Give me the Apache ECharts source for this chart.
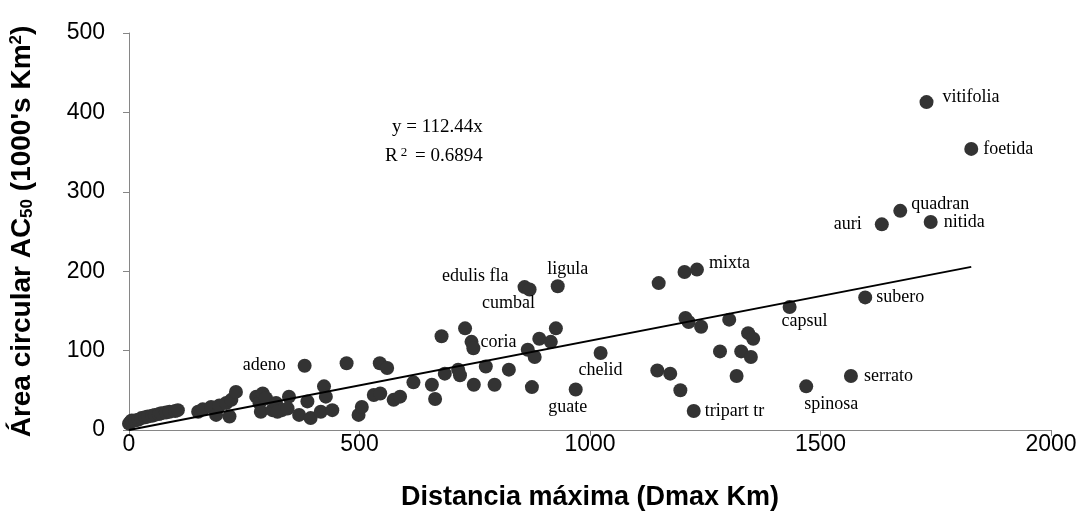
<!DOCTYPE html>
<html>
<head>
<meta charset="utf-8">
<title>Área circular vs distancia máxima</title>
<script src="https://cdn.jsdelivr.net/npm/echarts@6/dist/echarts.min.js"></script>
<style>
  html, body { margin: 0; padding: 0; background: #fff; }
  #chart { width: 1081px; height: 531px; }
</style>
</head>
<body>
<div id="chart"></div>
<script>
// distancia maxima (km)
var distX = [0, 3, 6, 13, 20, 27, 35, 41, 50, 56, 65, 70, 80, 88, 100, 106,
  150, 160, 178, 189, 196, 211, 218, 222, 232, 276, 283, 290, 297, 286, 311,
  319, 332, 347, 322, 344, 369, 381, 387, 394, 416, 423, 427, 441, 472, 498,
  505, 531, 545, 544, 560, 574, 588, 617, 657, 664, 678, 685, 714, 718, 729,
  743, 747, 748, 774, 793, 824, 858, 869, 865, 874, 880, 890, 915, 926, 930,
  969, 1023, 1146, 1149, 1174, 1196, 1205, 1207, 1214, 1225, 1232, 1241, 1282,
  1302, 1318, 1328, 1343, 1349, 1354, 1433, 1469, 1566, 1597, 1633, 1673, 1730,
  1739, 1827]
// area circular AC50 (1000's km2)
var areaY = [8, 10, 12, 12, 13, 15, 16, 17, 18, 19, 20, 21, 22, 23, 24, 25,
  23, 26, 29, 19, 31, 34, 17, 38, 48, 42, 34, 46, 40, 23, 25,
  34, 25, 42, 23, 27, 19, 81, 36, 15, 23, 55, 42, 25, 84, 19,
  29, 44, 46, 84, 78, 38, 42, 60, 57, 39, 118, 71, 76, 69, 128,
  111, 103, 57, 80, 57, 76, 180, 177, 101, 54, 92, 115, 111, 128, 181,
  51, 97, 75, 185, 71, 50, 199, 141, 136, 24, 202, 130, 99,
  139, 68, 99, 122, 92, 115, 155, 55, 68, 167, 259, 276, 413,
  262, 354]
// nombres de especie (solo algunos puntos)
var speciesNames = {
  381: 'adeno', 858: 'edulis fla', 869: 'cumbal', 930: 'ligula', 743: 'coria',
  969: 'guate', 1023: 'chelid', 1232: 'mixta', 1225: 'tripart tr',
  1433: 'capsul', 1469: 'spinosa', 1566: 'serrato', 1597: 'subero',
  1633: 'auri', 1673: 'quadran', 1739: 'nitida', 1730: 'vitifolia',
  1827: 'foetida'
}
var xTicks = [0, 500, 1000, 1500, 2000]
var yTicks = [0, 100, 200, 300, 400, 500]
var trendSlope = 0.11244 // y = 112.44x
var trendR2 = 0.6894

// donde va cada etiqueta
var labelPlace = {
  'adeno': { position: 'left', distance: 12, offset: [0, 0] },
  'edulis fla': { position: 'left', distance: 9, offset: [0, -11] },
  'cumbal': { position: 'bottom', distance: 5, offset: [-21, -7] },
  'ligula': { position: 'top', distance: 5, offset: [10, 4] },
  'coria': { position: 'right', distance: 2, offset: [0, 0] },
  'guate': { position: 'bottom', distance: 5, offset: [-8, -3] },
  'chelid': { position: 'bottom', distance: 5, offset: [0, -4] },
  'mixta': { position: 'right', distance: 5, offset: [0, -6] },
  'tripart tr': { position: 'right', distance: 4, offset: [0, 0] },
  'capsul': { position: 'bottom', distance: 5, offset: [15, -7] },
  'spinosa': { position: 'bottom', distance: 5, offset: [25, -3] },
  'serrato': { position: 'right', distance: 6, offset: [0, 0] },
  'subero': { position: 'right', distance: 4, offset: [0, 0] },
  'auri': { position: 'left', distance: 13, offset: [0, 0] },
  'quadran': { position: 'right', distance: 4, offset: [0, -7] },
  'nitida': { position: 'right', distance: 6, offset: [0, 0] },
  'vitifolia': { position: 'right', distance: 9, offset: [0, -5] },
  'foetida': { position: 'right', distance: 5, offset: [0, 0] }
}

var points = distX.map(function (x, i) {
  var name = speciesNames[x]
  var item = { value: [x, areaY[i]] }
  if (name) {
    var p = labelPlace[name]
    item.name = name
    item.label = {
      show: true,
      formatter: name,
      position: p.position,
      distance: p.distance,
      offset: p.offset
    }
  }
  return item
})

var xMax = Math.max.apply(null, distX)
var trendData = [[0, 0], [xMax, trendSlope * xMax]]

var chart = echarts.init(document.getElementById('chart'))
var axisGray = '#868686'
var option = {
  animation: false,
  backgroundColor: '#fff',
  grid: { left: 124, right: 30, top: 33, bottom: 101 },
  xAxis: {
    type: 'value',
    min: xTicks[0],
    max: xTicks[xTicks.length - 1],
    interval: xTicks[1] - xTicks[0],
    name: 'Distancia máxima (Dmax Km)',
    nameLocation: 'middle',
    nameGap: 54,
    nameTextStyle: { fontFamily: 'Liberation Sans', fontWeight: 'bold', fontSize: 27, color: '#000' },
    axisLine: { show: true, lineStyle: { color: axisGray, width: 1 } },
    axisTick: { show: true, length: 6, lineStyle: { color: axisGray } },
    axisLabel: {
      fontFamily: 'Liberation Sans',
      fontSize: 23,
      color: '#000',
      margin: 3,
      formatter: function (v) { return String(v) }
    },
    splitLine: { show: false }
  },
  yAxis: {
    type: 'value',
    min: yTicks[0],
    max: yTicks[yTicks.length - 1],
    interval: yTicks[1] - yTicks[0],
    name: '{a|Área circular AC}{sub|50}{a| (1000\'s Km}{sup|2}{a|)}',
    nameLocation: 'middle',
    nameGap: 92,
    nameTextStyle: {
      fontFamily: 'Liberation Sans',
      fontWeight: 'bold',
      fontSize: 28,
      color: '#000',
      rich: {
        a: { fontFamily: 'Liberation Sans', fontWeight: 'bold', fontSize: 28, color: '#000' },
        sub: { fontFamily: 'Liberation Sans', fontWeight: 'bold', fontSize: 17, color: '#000', padding: [10, 0, 0, 0] },
        sup: { fontFamily: 'Liberation Sans', fontWeight: 'bold', fontSize: 17, color: '#000', padding: [0, 0, 12, 0] }
      }
    },
    axisLine: { show: true, lineStyle: { color: axisGray, width: 1 } },
    axisTick: { show: true, length: 6, lineStyle: { color: axisGray } },
    axisLabel: { fontFamily: 'Liberation Sans', fontSize: 23, color: '#000', margin: 24 },
    splitLine: { show: false }
  },
  graphic: [
    {
      type: 'text',
      left: 392,
      top: 118,
      style: {
        text: 'y = 112.44x',
        font: '19px "Liberation Serif"',
        fill: '#000'
      }
    },
    {
      type: 'text',
      left: 385,
      top: 146,
      style: {
        text: 'R{s|2} = ' + trendR2.toFixed(4),
        font: '19px "Liberation Serif"',
        fill: '#000',
        rich: {
          s: { font: '13px "Liberation Serif"', padding: [0, 3, 8, 3] }
        }
      }
    }
  ],
  series: [
    {
      type: 'scatter',
      symbol: 'circle',
      symbolSize: 14,
      itemStyle: { color: '#333333', opacity: 1 },
      label: {
        fontFamily: 'Liberation Serif',
        fontSize: 18,
        color: '#000'
      },
      data: points,
      z: 2
    },
    {
      type: 'line',
      data: trendData,
      showSymbol: false,
      symbol: 'none',
      lineStyle: { color: '#000', width: 2 },
      z: 3
    }
  ]
}
chart.setOption(option)
window.addEventListener('resize', function () {
  chart.resize()
})
</script>
</body>
</html>
